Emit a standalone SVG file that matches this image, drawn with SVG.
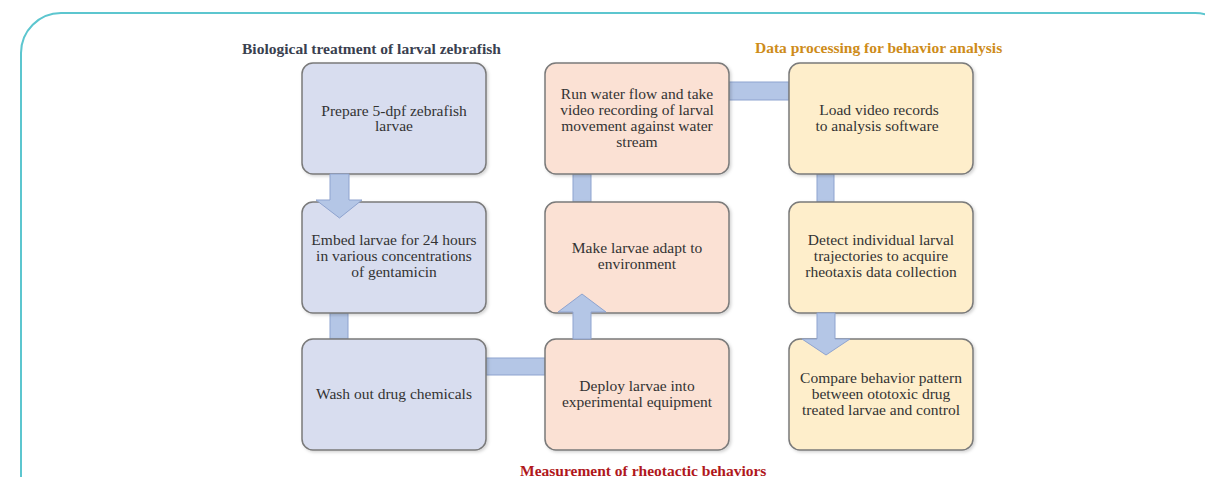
<svg xmlns="http://www.w3.org/2000/svg" width="1205" height="477" viewBox="0 0 1205 477">
<style>
.box{stroke:#7a7a7a;stroke-width:1.5}
.c1{fill:#D8DDEF}
.c2{fill:#FBE1D4}
.c3{fill:#FEEECB}
.t{font-family:"Liberation Serif","Times New Roman",serif;font-size:15.5px;fill:#333;text-anchor:middle}
.h{font-family:"Liberation Serif","Times New Roman",serif;font-size:15.5px;font-weight:bold}
.conn{fill:#B4C6E6;stroke:#8EA3CF;stroke-width:1}
</style>
<defs>
<filter id="sh" x="-5%" y="-5%" width="115%" height="115%">
<feDropShadow dx="1.5" dy="1.5" stdDeviation="1.5" flood-color="#000" flood-opacity="0.18"/>
</filter>
</defs>
<rect width="1205" height="477" fill="#fff"/>
<path d="M21,477 V53 A40,40 0 0 1 61,13 H1195 A40,40 0 0 1 1235,53 V477" fill="none" stroke="#5CC6CF" stroke-width="2"/>

<text class="h" x="242" y="54" fill="#3A3F4F">Biological treatment of larval zebrafish</text>
<text class="h" x="755" y="53" fill="#CE8C1A">Data processing for behavior analysis</text>
<text class="h" x="520" y="476" fill="#B0181C">Measurement of rheotactic behaviors</text>

<g id="connectors-under">
<rect class="conn" x="330" y="313" width="18" height="26"/>
<rect class="conn" x="486" y="358" width="59" height="17"/>
<rect class="conn" x="573" y="174" width="18" height="28"/>
<rect class="conn" x="729" y="82" width="60" height="18"/>
<rect class="conn" x="817" y="174" width="17" height="28"/>
</g>

<g id="n1"><rect class="box c1" x="302" y="63" width="184" height="111" rx="11" filter="url(#sh)"/>
<text class="t"><tspan x="394" y="116">Prepare 5-dpf zebrafish</tspan><tspan x="394" y="131">larvae</tspan></text></g>
<g id="n2"><rect class="box c1" x="302" y="202" width="184" height="111" rx="11" filter="url(#sh)"/>
<text class="t"><tspan x="394" y="245">Embed larvae for 24 hours</tspan><tspan x="394" y="261">in various concentrations</tspan><tspan x="394" y="277">of gentamicin</tspan></text></g>
<g id="n3"><rect class="box c1" x="302" y="339" width="184" height="111" rx="11" filter="url(#sh)"/>
<text class="t"><tspan x="394" y="399">Wash out drug chemicals</tspan></text></g>

<g id="n4"><rect class="box c2" x="545" y="63" width="184" height="111" rx="11" filter="url(#sh)"/>
<text class="t"><tspan x="637" y="99">Run water flow and take</tspan><tspan x="637" y="115">video recording of larval</tspan><tspan x="637" y="131">movement against water</tspan><tspan x="637" y="147">stream</tspan></text></g>
<g id="n5"><rect class="box c2" x="545" y="202" width="184" height="111" rx="11" filter="url(#sh)"/>
<text class="t"><tspan x="637" y="253">Make larvae adapt to</tspan><tspan x="637" y="269">environment</tspan></text></g>
<g id="n6"><rect class="box c2" x="545" y="339" width="184" height="111" rx="11" filter="url(#sh)"/>
<text class="t"><tspan x="637" y="391">Deploy larvae into</tspan><tspan x="637" y="407">experimental equipment</tspan></text></g>

<g id="n7"><rect class="box c3" x="789" y="63" width="184" height="111" rx="11" filter="url(#sh)"/>
<text class="t"><tspan x="879" y="115">Load video records</tspan><tspan x="877" y="131">to analysis software</tspan></text></g>
<g id="n8"><rect class="box c3" x="789" y="202" width="184" height="111" rx="11" filter="url(#sh)"/>
<text class="t"><tspan x="881" y="245">Detect individual larval</tspan><tspan x="881" y="261">trajectories to acquire</tspan><tspan x="881" y="277">rheotaxis data collection</tspan></text></g>
<g id="n9"><rect class="box c3" x="789" y="339" width="184" height="111" rx="11" filter="url(#sh)"/>
<text class="t"><tspan x="881" y="383">Compare behavior pattern</tspan><tspan x="881" y="399">between ototoxic drug</tspan><tspan x="881" y="415">treated larvae and control</tspan></text></g>

<g id="connectors-arrows">
<path class="conn" d="M330,174 H349 V200 H362 L339.5,218 L316,200 H330 Z"/>
<path class="conn" d="M573,339 H591 V312 H606 L582,294 L558,312 H573 Z"/>
<path class="conn" d="M817,313 H835 V339 H850 L826,355 L802,339 H817 Z"/>
</g>
</svg>
